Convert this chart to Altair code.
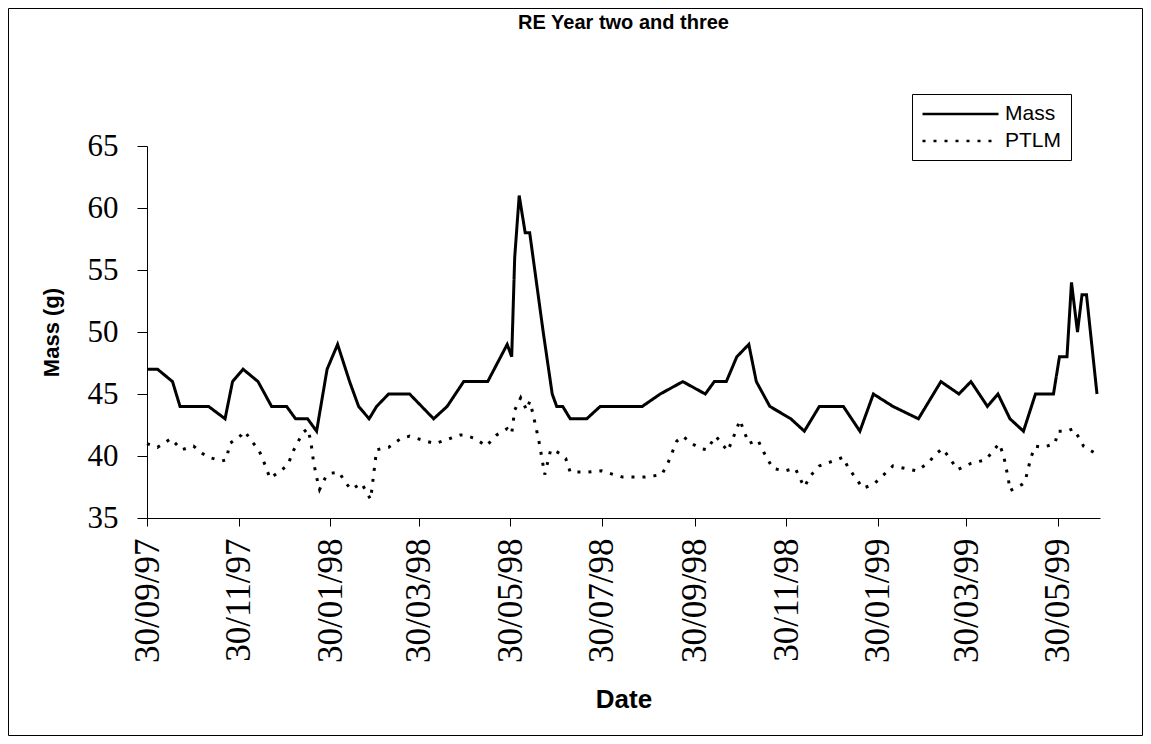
import altair as alt
import pandas as pd

# ---------------- data ----------------
mass_dates = [
    "1997-09-30", "1997-10-07", "1997-10-17", "1997-10-22", "1997-11-10", "1997-11-21",
    "1997-11-26", "1997-12-03", "1997-12-13", "1997-12-22", "1998-01-01", "1998-01-07",
    "1998-01-15", "1998-01-21", "1998-01-28", "1998-02-04", "1998-02-12", "1998-02-18",
    "1998-02-25", "1998-03-02", "1998-03-10", "1998-03-24", "1998-04-09", "1998-04-18",
    "1998-04-29", "1998-05-15", "1998-05-28", "1998-05-31", "1998-06-02", "1998-06-05",
    "1998-06-09", "1998-06-12", "1998-06-21", "1998-06-27", "1998-06-30", "1998-07-04",
    "1998-07-09", "1998-07-20", "1998-07-29", "1998-08-26", "1998-09-07", "1998-09-22",
    "1998-10-07", "1998-10-13", "1998-10-21", "1998-10-28", "1998-11-05", "1998-11-10",
    "1998-11-19", "1998-12-03", "1998-12-12", "1998-12-22", "1999-01-07", "1999-01-18",
    "1999-01-27", "1999-02-09", "1999-02-26", "1999-03-13", "1999-03-25", "1999-04-02",
    "1999-04-13", "1999-04-20", "1999-04-28", "1999-05-07", "1999-05-15", "1999-05-27",
    "1999-05-31", "1999-06-05", "1999-06-08", "1999-06-12", "1999-06-15", "1999-06-18",
    "1999-06-25",
]
mass_values = [
    47, 47, 46, 44, 44, 43,
    46, 47, 46, 44, 44, 43,
    43, 42, 47, 49, 46, 44,
    43, 44, 45, 45, 43, 44,
    46, 46, 49, 48, 56, 61,
    58, 58, 50, 45, 44, 44,
    43, 43, 44, 44, 45, 46,
    45, 46, 46, 48, 49, 46,
    44, 43, 42, 44, 44, 42,
    45, 44, 43, 46, 45, 46,
    44, 45, 43, 42, 45, 45,
    48, 48, 54, 50, 53, 53,
    45,
]

ptlm_dates = [
    "1997-09-30", "1997-10-07", "1997-10-16", "1997-10-23", "1997-10-31", "1997-11-06",
    "1997-11-10", "1997-11-19", "1997-11-22", "1997-11-24", "1997-12-02", "1997-12-04",
    "1997-12-10", "1997-12-13", "1997-12-16", "1997-12-21", "1997-12-28", "1998-01-02",
    "1998-01-05", "1998-01-08", "1998-01-12", "1998-01-15", "1998-01-17", "1998-01-19",
    "1998-01-21", "1998-01-23", "1998-01-27", "1998-01-30", "1998-02-05", "1998-02-09",
    "1998-02-13", "1998-02-20", "1998-02-26", "1998-03-02", "1998-03-10", "1998-03-18",
    "1998-03-24", "1998-04-01", "1998-04-10", "1998-04-17", "1998-04-27", "1998-04-29",
    "1998-05-07", "1998-05-14", "1998-05-21", "1998-05-28", "1998-05-31", "1998-06-02",
    "1998-06-06", "1998-06-10", "1998-06-12", "1998-06-14", "1998-06-18", "1998-06-22",
    "1998-06-26", "1998-06-28", "1998-07-02", "1998-07-06", "1998-07-09", "1998-07-21",
    "1998-07-30", "1998-08-07", "1998-08-13", "1998-08-28", "1998-09-08", "1998-09-12",
    "1998-09-18", "1998-09-22", "1998-09-28", "1998-10-04", "1998-10-08", "1998-10-14",
    "1998-10-20", "1998-10-22", "1998-10-28", "1998-10-30", "1998-11-05", "1998-11-11",
    "1998-11-15", "1998-11-21", "1998-11-29", "1998-12-06", "1998-12-09", "1998-12-12",
    "1998-12-16", "1998-12-22", "1998-12-29", "1999-01-07", "1999-01-10", "1999-01-16",
    "1999-01-20", "1999-01-27", "1999-02-03", "1999-02-09", "1999-02-17", "1999-02-25",
    "1999-03-04", "1999-03-11", "1999-03-14", "1999-03-19", "1999-03-24", "1999-04-02",
    "1999-04-12", "1999-04-18", "1999-04-21", "1999-04-24", "1999-04-27", "1999-04-28",
    "1999-05-06", "1999-05-08", "1999-05-12", "1999-05-15", "1999-05-20", "1999-05-28",
    "1999-05-30", "1999-06-05", "1999-06-09", "1999-06-14", "1999-06-16", "1999-06-24",
]
ptlm_values = [
    41.0, 40.7, 41.4, 40.5, 40.8, 40.2,
    39.9, 39.6, 39.7, 41.0, 41.7, 42.0,
    41.0, 40.6, 39.8, 38.2, 38.8, 39.3,
    40.3, 41.0, 41.9, 42.2, 41.3, 39.5,
    38.3, 37.3, 38.3, 38.6, 38.7, 37.9,
    37.3, 37.8, 36.5, 40.5, 40.7, 41.4,
    41.6, 41.3, 41.0, 41.3, 41.7, 41.7,
    41.4, 40.8, 41.7, 42.2, 41.8, 43.7,
    44.7, 43.7, 44.4, 43.5, 41.3, 38.5,
    40.5, 40.5, 40.2, 39.8, 38.7, 38.7,
    38.8, 38.5, 38.3, 38.3, 38.5, 39.4,
    41.2, 41.6, 41.0, 40.6, 40.5, 41.6,
    40.7, 40.4, 42.2, 42.9, 41.0, 41.3,
    40.3, 39.0, 38.8, 39.0, 38.2, 37.5,
    38.4, 39.2, 39.5, 39.9, 39.1, 38.1,
    37.4, 37.7, 38.5, 39.2, 39.0, 38.8,
    39.4, 40.3, 40.6, 39.8, 38.9, 39.4,
    39.7, 40.6, 41.0, 39.9, 38.1, 37.2,
    37.7, 37.9, 39.9, 40.8, 40.7, 41.0,
    42.0, 42.0, 42.2, 41.3, 40.8, 40.2,
]

series_names = ["Mass", "PTLM"]
x_tick_dates = [(1997, 9, 30), (1997, 11, 30), (1998, 1, 30), (1998, 3, 30), (1998, 5, 30),
                (1998, 7, 30), (1998, 9, 30), (1998, 11, 30), (1999, 1, 30), (1999, 3, 30),
                (1999, 5, 30)]
x_domain = [(1997, 9, 30), (1999, 6, 27)]
y_ticks = [35, 40, 45, 50, 55, 60, 65]

# ---------------- table ----------------
rows = [{"date": d, "value": v, "series": series_names[0]} for d, v in zip(mass_dates, mass_values)]
rows += [{"date": d, "value": v, "series": series_names[1]} for d, v in zip(ptlm_dates, ptlm_values)]
df = pd.DataFrame(rows)


def dt(t):
    return alt.DateTime(year=t[0], month=t[1], date=t[2], utc=True)


W, H = 953, 372
PAD = {"left": 139, "top": 138, "right": 43, "bottom": 218}

lines = alt.Chart(df).mark_line(strokeWidth=3, color="black").encode(
    x=alt.X(
        "date:T",
        title="Date",
        scale=alt.Scale(type="utc", domain=[dt(x_domain[0]), dt(x_domain[1])]),
        axis=alt.Axis(
            values=[dt(t) for t in x_tick_dates],
            format="%d/%m/%y",
            labelAngle=-90,
            labelFont="Liberation Serif",
            labelFontSize=35,
            labelPadding=12,
            tickSize=8,
            titleFont="Liberation Sans",
            titleFontSize=26,
            titleFontWeight="bold",
            titlePadding=24,
            labelOverlap=False,
        ),
    ),
    y=alt.Y(
        "value:Q",
        title="Mass (g)",
        scale=alt.Scale(domain=[35, 65], nice=False, zero=False),
        axis=alt.Axis(
            values=y_ticks,
            labelFont="Liberation Serif",
            labelFontSize=31,
            labelPadding=19,
            tickSize=10,
            titleFont="Liberation Sans",
            titleFontSize=22,
            titleFontWeight="bold",
            titlePadding=24,
        ),
    ),
    strokeDash=alt.StrokeDash(
        "series:N",
        title=None,
        scale=alt.Scale(domain=series_names, range=[[1, 0], [3, 8]]),
        legend=alt.Legend(
            orient="none",
            legendX=765,
            legendY=-52,
            symbolType="M-1,0H7",
            symbolSize=361,
            symbolStrokeWidth=2.5,
            symbolStrokeColor="black",
            labelOffset=62,
            labelFont="Liberation Sans",
            labelFontSize=21,
            labelColor="black",
            rowPadding=6,
            strokeColor="black",
            fillColor="white",
            padding=9,
        ),
    ),
)

frame = alt.Chart(pd.DataFrame({"k": [0]})).mark_rect(
    fillOpacity=0, stroke="black", strokeWidth=1
).encode(
    x=alt.value(-138.5), x2=alt.value(W + PAD["right"] - 0.5),
    y=alt.value(-137.5), y2=alt.value(H + PAD["bottom"] - 0.5),
)

chart = alt.layer(frame, lines).properties(
    width=W,
    height=H,
    padding=PAD,
    autosize=alt.AutoSizeParams(type="none"),
    title=alt.TitleParams(
        "RE Year two and three",
        font="Liberation Sans",
        fontSize=20,
        fontWeight="bold",
        color="black",
        anchor="middle",
        offset=-25,
    ),
    background="white",
).configure_view(strokeWidth=0).configure_axis(
    domainColor="black", tickColor="black", labelColor="black", titleColor="black",
    grid=False, domainWidth=1, tickWidth=1,
)

chart.save("out.html", embed_options={"renderer": "svg", "actions": False})
